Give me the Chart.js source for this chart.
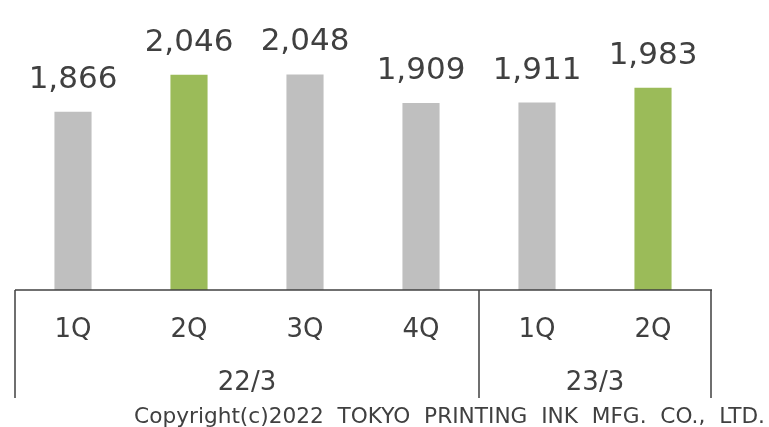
<!DOCTYPE html>
<html>
<head>
<meta charset="utf-8">
<script src="https://cdn.jsdelivr.net/npm/chart.js@4.4.1/dist/chart.umd.min.js"></script>
<style>
  html, body { margin: 0; padding: 0; background: #fff; }
  #wrap { width: 769px; height: 427px; }
</style>
</head>
<body>
<div id="wrap"><canvas id="grafikKuartal" width="769" height="427"></canvas></div>
<script>
const kuartal = ['1Q', '2Q', '3Q', '4Q', '1Q', '2Q'];
const nilai = [1866, 2046, 2048, 1909, 1911, 1983];
const warnaBar = ['#bfbfbf', '#9bbb59', '#bfbfbf', '#bfbfbf', '#bfbfbf', '#9bbb59'];
const tahunFiskal = ['22/3', '23/3'];
const jumlahPerTahun = [4, 2];
const sumbuMin = 1000;
const sumbuMax = 2400;
const hakCipta = 'Copyright(c)2022  TOKYO  PRINTING  INK  MFG.  CO.,  LTD.';

const warnaTeks = '#404040';
const huruf = '"DejaVu Sans", Verdana, sans-serif';

// label angka di atas bar + sumbu kategori bertingkat
const pluginLabel = {
    id: 'pluginLabel',
    afterDatasetsDraw(chart) {
        const ctx = chart.ctx;
        const area = chart.chartArea;
        const x = chart.scales.x;
        const meta = chart.getDatasetMeta(0);

        ctx.save();
        ctx.fillStyle = warnaTeks;
        ctx.textAlign = 'center';
        ctx.textBaseline = 'alphabetic';
        ctx.font = '31px ' + huruf;
        meta.data.forEach((bar, i) => {
            ctx.fillText(nilai[i].toLocaleString('en-US'), bar.x, bar.y - 24);
        });

        // garis sumbu
        const lebarKat = (x.getPixelForValue(1) - x.getPixelForValue(0));
        const bawah = area.bottom + 108;
        ctx.strokeStyle = '#404040';
        ctx.lineWidth = 1.5;
        ctx.beginPath();
        ctx.moveTo(area.left, area.bottom);
        ctx.lineTo(area.right + 1, area.bottom);
        ctx.stroke();

        ctx.font = '26px ' + huruf;
        ctx.textBaseline = 'middle';
        kuartal.forEach((k, i) => {
            ctx.fillText(k, x.getPixelForValue(i), area.bottom + 40);
        });

        let mulai = 0;
        ctx.beginPath();
        ctx.moveTo(area.left, area.bottom);
        ctx.lineTo(area.left, bawah);
        tahunFiskal.forEach((t, j) => {
            const kiri = x.getPixelForValue(mulai) - lebarKat / 2;
            const kanan = x.getPixelForValue(mulai + jumlahPerTahun[j] - 1) + lebarKat / 2;
            ctx.fillText(t, (kiri + kanan) / 2, area.bottom + 93);
            ctx.moveTo(kanan, area.bottom);
            ctx.lineTo(kanan, bawah);
            mulai += jumlahPerTahun[j];
        });
        ctx.stroke();

        // teks hak cipta, diskalakan agar lebarnya sama
        let ukuran = 20;
        ctx.font = ukuran + 'px ' + huruf;
        const lebar = ctx.measureText(hakCipta).width;
        ukuran = ukuran * 631 / lebar;
        ctx.font = ukuran.toFixed(2) + 'px ' + huruf;
        ctx.textAlign = 'right';
        ctx.textBaseline = 'alphabetic';
        ctx.fillText(hakCipta, 765, 423);
        ctx.restore();
    }
};

const ctx = document.getElementById('grafikKuartal').getContext('2d');
new Chart(ctx, {
    type: 'bar',
    data: {
        labels: kuartal.map((k, i) => i),
        datasets: [{
            data: nilai,
            backgroundColor: warnaBar,
            categoryPercentage: 1,
            barPercentage: 0.32
        }]
    },
    options: {
        responsive: false,
        animation: false,
        layout: {
            padding: { left: 15, right: 58, top: 2, bottom: 137 }
        },
        plugins: {
            legend: { display: false },
            tooltip: { enabled: false }
        },
        scales: {
            x: { display: false },
            y: { display: false, min: sumbuMin, max: sumbuMax }
        }
    },
    plugins: [pluginLabel]
});
</script>
</body>
</html>
